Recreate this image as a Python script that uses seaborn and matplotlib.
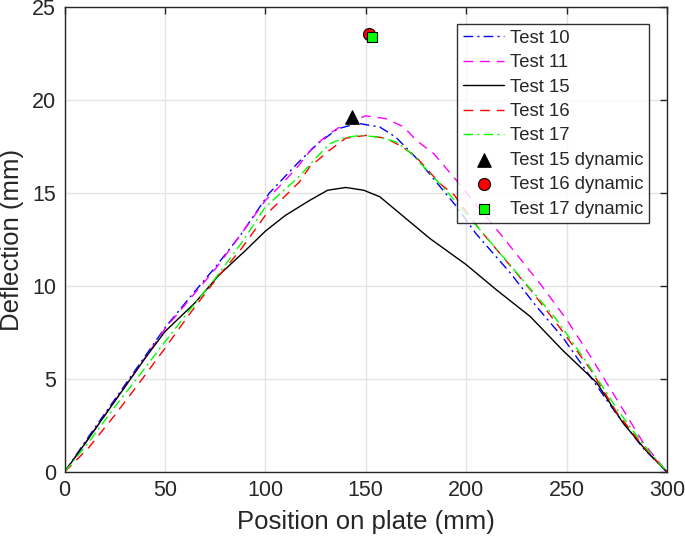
import numpy as np
import pandas as pd
import matplotlib
matplotlib.use("Agg")
import matplotlib.pyplot as plt
import seaborn as sns

x10 = [0, 12, 25, 38, 50, 64, 75, 88, 102, 116, 126, 136, 146, 157, 165, 175, 182, 195, 205, 222, 235, 248, 262, 275, 288, 300]
y10 = [0, 1.9, 3.9, 5.9, 7.75, 9.6, 11.0, 12.8, 15.0, 16.6, 17.65, 18.45, 18.75, 18.55, 18.0, 16.9, 16.0, 14.3, 12.8, 10.7, 8.9, 7.25, 5.1, 3.1, 1.3, 0]

x11 = [0, 12, 25, 38, 50, 64, 75, 88, 100, 107, 116, 124, 132, 140, 150, 160, 169, 175, 184, 195, 217, 237, 250, 262, 275, 288, 300]
y11 = [0, 1.8, 3.8, 5.8, 7.7, 9.5, 10.9, 12.8, 14.6, 15.35, 16.4, 17.5, 18.2, 18.75, 19.15, 19.0, 18.55, 17.85, 17.1, 15.7, 12.8, 10.1, 8.2, 6.2, 3.9, 1.6, 0]

x15 = [0, 10, 25, 40, 50, 65, 77, 90, 100, 110, 122, 131, 140, 149, 157, 167, 182, 200, 215, 232, 248, 265, 278, 290, 300]
y15 = [0, 1.5, 3.8, 6.1, 7.55, 9.1, 10.6, 11.9, 12.95, 13.8, 14.6, 15.15, 15.3, 15.15, 14.8, 13.9, 12.55, 11.15, 9.8, 8.35, 6.55, 4.8, 2.65, 1.1, 0]

x16 = [0, 12, 25, 38, 50, 63, 75, 88, 100, 117, 122, 132, 140, 150, 160, 168, 175, 187, 194, 200, 207, 218, 232, 245, 262, 275, 288, 300]
y16 = [0, 1.3, 3.05, 4.9, 6.65, 8.6, 10.3, 12.0, 13.8, 15.6, 16.4, 17.3, 17.95, 18.1, 17.95, 17.5, 16.95, 15.5, 14.9, 14.0, 13.0, 11.6, 9.8, 8.0, 5.5, 3.2, 1.4, 0]

x17 = [0, 12, 25, 38, 50, 63, 75, 88, 100, 117, 124, 132, 140, 148, 157, 165, 172, 189, 200, 215, 230, 245, 260, 275, 288, 300]
y17 = [0, 1.6, 3.5, 5.3, 7.0, 8.8, 10.4, 12.3, 14.25, 15.9, 16.75, 17.65, 18.0, 18.1, 18.0, 17.75, 17.2, 15.25, 13.9, 12.0, 10.1, 8.2, 5.9, 3.4, 1.5, 0]

# dynamic peak deflections
dyn_labels = ["Test 15 dynamic", "Test 16 dynamic", "Test 17 dynamic"]
dyn_x = [143, 151.8, 153.3]
dyn_y = [19.07, 23.55, 23.4]

sns.set_style("white")
plt.rcParams['font.family'] = ['Liberation Sans', 'DejaVu Sans']

fig = plt.figure(figsize=(6.85, 5.45), dpi=100)
ax = fig.add_axes([0.0942, 0.134, 0.8795, 0.853])

sns.lineplot(x=x10, y=y10, color="blue", lw=1, ax=ax, label="Test 10").lines[-1].set_dashes([7, 3, 1.5, 3])
sns.lineplot(x=x11, y=y11, color="magenta", lw=1, ax=ax, label="Test 11").lines[-1].set_dashes([7, 5])
sns.lineplot(x=x15, y=y15, color="black", lw=1, ax=ax, label="Test 15")
sns.lineplot(x=x16, y=y16, color="red", lw=1, ax=ax, label="Test 16").lines[-1].set_dashes([7, 5])
sns.lineplot(x=x17, y=y17, color="#00ff00", lw=1, ax=ax, label="Test 17").lines[-1].set_dashes([7, 3, 1.5, 3])

sns.scatterplot(x=[dyn_x[0]], y=[dyn_y[0]], marker="^", s=95, color="black", edgecolor="black", ax=ax, label=dyn_labels[0], zorder=5)
sns.scatterplot(x=[dyn_x[1]], y=[dyn_y[1]], marker="o", s=75, color="red", edgecolor="black", linewidth=0.8, ax=ax, label=dyn_labels[1], zorder=5)
sns.scatterplot(x=[dyn_x[2]], y=[dyn_y[2]], marker="s", s=42, color="#00ff00", edgecolor="black", linewidth=0.8, ax=ax, label=dyn_labels[2], zorder=6)

ax.set_xlim(0, 300)
ax.set_ylim(0, 25)
ax.set_xticks(np.arange(0, 301, 50))
ax.set_yticks(np.arange(0, 26, 5))
ax.grid(True, color="#e3e3e3", lw=1)
ax.set_axisbelow(True)
ax.tick_params(direction="in", length=5, width=1, top=True, right=True, labelsize=15.5, pad=6, color="#262626")
for sp in ax.spines.values():
    sp.set_color("#262626")
    sp.set_linewidth(1)
ax.set_xlabel("Position on plate (mm)", fontsize=18.5, labelpad=6)
ax.set_ylabel("Deflection (mm)", fontsize=18.5, labelpad=6)

leg = ax.legend(loc="upper right", bbox_to_anchor=(0.97, 0.963), fontsize=13.3, frameon=True,
                fancybox=False, edgecolor="black", handlelength=2.25, handletextpad=0.3,
                labelspacing=0.4, borderpad=0.3, borderaxespad=0)
leg.get_frame().set_linewidth(1)

fig.savefig("out.png", dpi=100)
